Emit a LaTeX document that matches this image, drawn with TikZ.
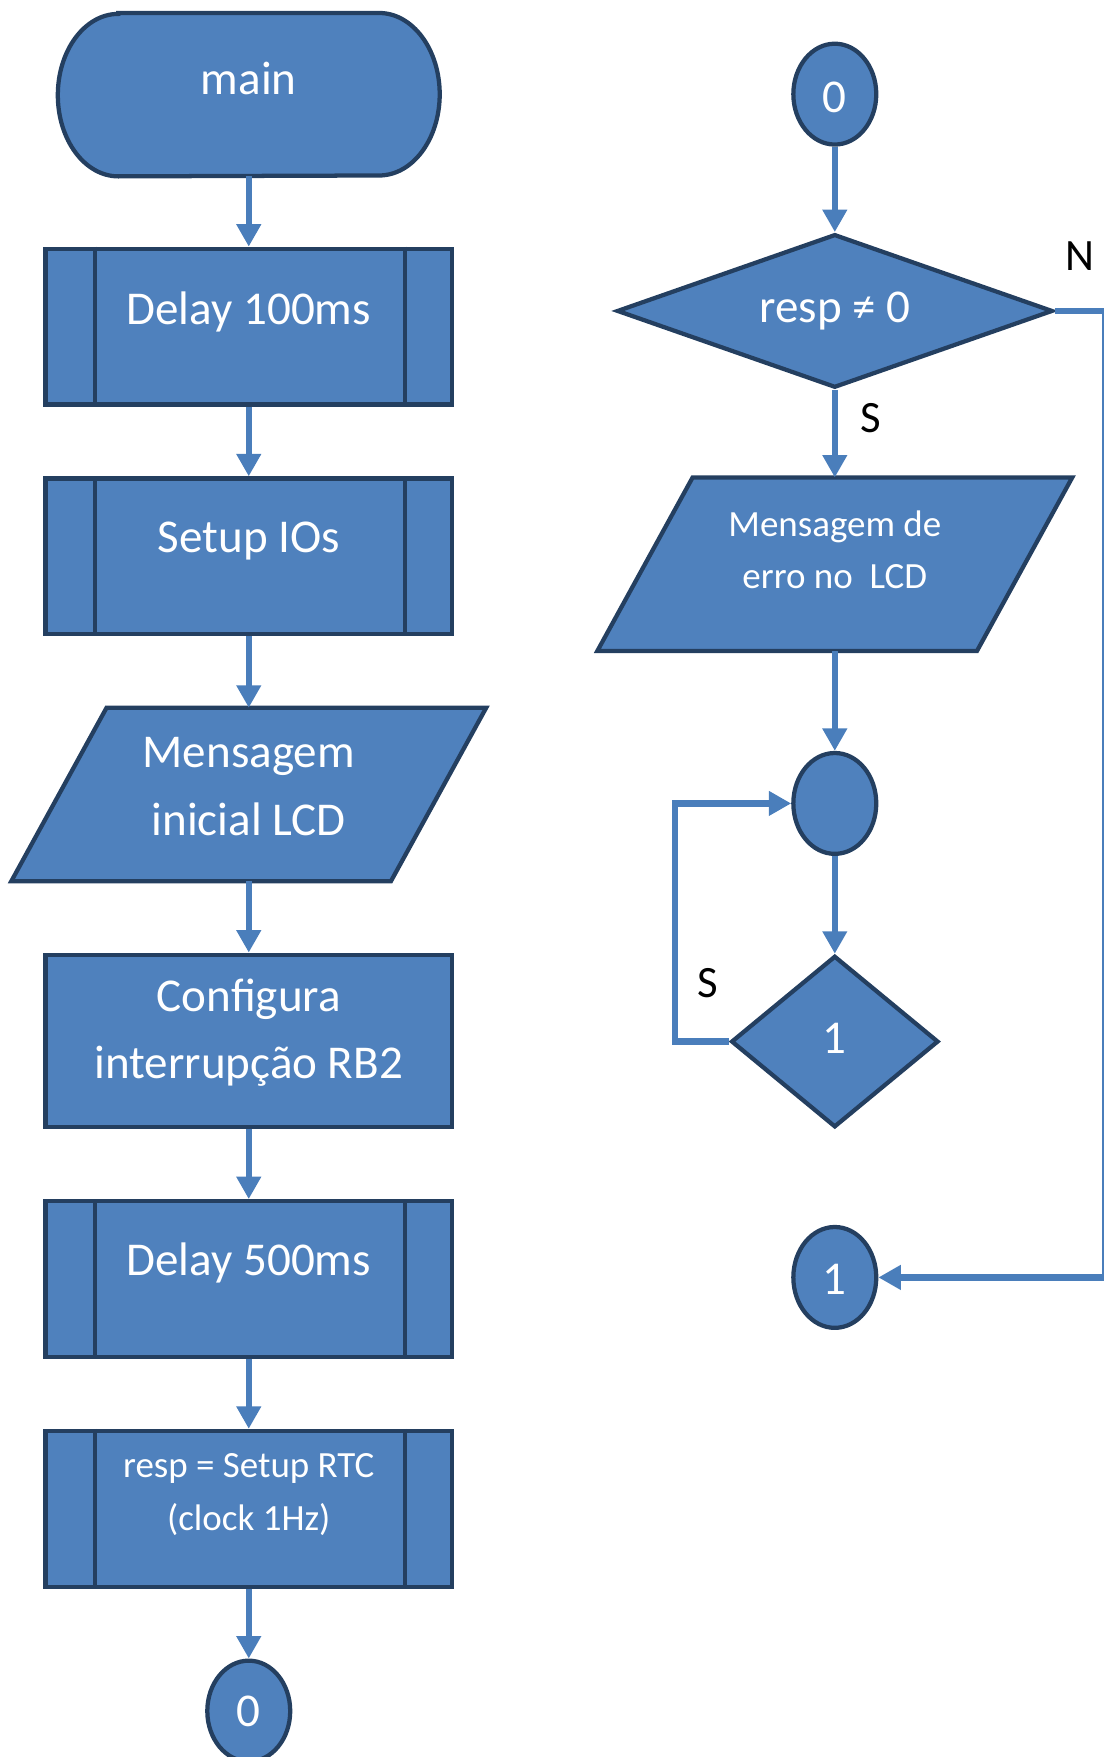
\documentclass[tikz,border=0pt]{standalone}
\usepackage{fontspec}
\setmainfont{Carlito}
\usetikzlibrary{arrows.meta,shapes.geometric,backgrounds}
\definecolor{shapefill}{HTML}{4F81BD}
\definecolor{shapeedge}{HTML}{243F60}
\definecolor{flowline}{HTML}{4A7EBB}
\newcommand{\bigtxt}{\fontsize{21}{30}\selectfont}
\newcommand{\smalltxt}{\fontsize{16.5}{23.5}\selectfont}
\tikzset{
  box/.style={draw=shapeedge, fill=shapefill, line width=1.9pt, inner sep=0pt},
  caption/.style={text=white, font=\bigtxt, align=center},
  smallcaption/.style={text=white, font=\smalltxt, align=center},
  terminal/.style={rectangle, inner sep=0pt, minimum width=170pt, minimum height=72.5pt},
  procbox/.style={box, rectangle, minimum width=181.5pt, minimum height=69.5pt},
  actbox/.style={box, rectangle, minimum width=181.5pt, minimum height=77pt},
  iobox/.style={rectangle, inner sep=0pt, minimum width=211.5pt, minimum height=77pt},
  connector/.style={box, ellipse, minimum width=37pt, minimum height=45pt},
  decision/.style={box, diamond},
  flow/.style={draw=flowline, line width=2.8pt, -{Triangle[length=10pt,width=10.5pt]}},
  branch/.style={font=\fontsize{20}{24}\selectfont, text=black, inner sep=0pt},
}
\begin{document}
\begin{tikzpicture}[x=0.5pt, y=-0.5pt]
\useasboundingbox (0,0) rectangle (985,1568);

% left column: main program
\node[terminal, label={[caption, yshift=7.25pt]center:main}] (main) at (222,84.5) {};
\node[procbox, label={[caption, yshift=6.75pt]center:Delay 100ms}] (d1) at (222,291.5) {};
\node[procbox, label={[caption, yshift=6.75pt]center:Setup IOs}] (io) at (222,496.5) {};
\node[iobox, label={[caption, yshift=3.5pt]center:Mensagem\\inicial LCD}] (lcd) at (222,709) {};
\node[actbox, label={[caption, yshift=3.75pt]center:Configura\\interrupção RB2}] (irq) at (222,929) {};
\node[procbox, label={[caption, yshift=7.25pt]center:Delay 500ms}] (d5) at (222,1141.5) {};
\node[procbox, label={[smallcaption, yshift=6.5pt]center:resp = Setup RTC\\(clock 1Hz)}] (rtc) at (222,1346.5) {};
\node[connector, label={[caption]center:0}] (c0b) at (222,1527) {};

% right column: RTC check
\node[connector, label={[caption, yshift=-1.5pt]center:0}] (c0t) at (745,84) {};
\node[decision, minimum width=194.5pt, minimum height=68.5pt, label={[caption]center:resp ≠ 0}] (chk) at (745,277.5) {};
\node[iobox, label={[smallcaption, yshift=6.5pt]center:Mensagem de\\erro no~ LCD}] (err) at (745,503.5) {};
\node[connector] (hold) at (745,717) {};
\node[decision, minimum width=92.5pt, minimum height=76.5pt, label={[caption, yshift=1.5pt]center:1}] (loop) at (745,929.5) {};
\node[connector, label={[caption, yshift=-1pt]center:1}] (c1) at (745,1140) {};

% side bars of the predefined-process boxes
\foreach \n in {d1,io,d5,rtc}{
  \draw[draw=shapeedge, line width=1.9pt] ([xshift=23pt]\n.north west) -- ([xshift=23pt]\n.south west);
  \draw[draw=shapeedge, line width=1.9pt] ([xshift=-22pt]\n.north east) -- ([xshift=-22pt]\n.south east);
}

\begin{scope}[on background layer]
  % terminator with half-elliptic ends
  \draw[box] ([xshift=27pt]main.north west) -- ([xshift=-27pt]main.north east)
    arc[start angle=90, end angle=-90, x radius=27pt, y radius=36.25pt]
    -- ([xshift=27pt]main.south west)
    arc[start angle=270, end angle=90, x radius=27pt, y radius=36.25pt] -- cycle;
  % parallelogram outlines for the display blocks
  \foreach \n in {lcd,err}{
    \draw[box] (\n.south west) -- ([xshift=42.5pt]\n.north west) -- (\n.north east)
      -- ([xshift=-42.5pt]\n.south east) -- cycle;
  }
\end{scope}

% flow lines
\draw[flow] (main) -- (d1);
\draw[flow] (d1) -- (io);
\draw[flow] (io) -- (lcd);
\draw[flow] (lcd) -- (irq);
\draw[flow] (irq) -- (d5);
\draw[flow] (d5) -- (rtc);
\draw[flow] (rtc) -- (c0b);

\draw[flow] (c0t) -- (chk);
\draw[flow] (chk) -- (err);
\draw[flow] (err) -- (hold);
\draw[flow] (hold) -- (loop);
\draw[flow] (loop.west) -- ++(-24pt,0) |- (hold.west);
\draw[flow] (chk.east) -- ++(22.5pt,0) |- (c1.east);

% branch labels
\node[branch] (lblN) at (964,229) {N};
\node[branch] (lblS) at (777,373) {S};
\node[branch] (lblL) at (632,877) {S};
\end{tikzpicture}
\end{document}
